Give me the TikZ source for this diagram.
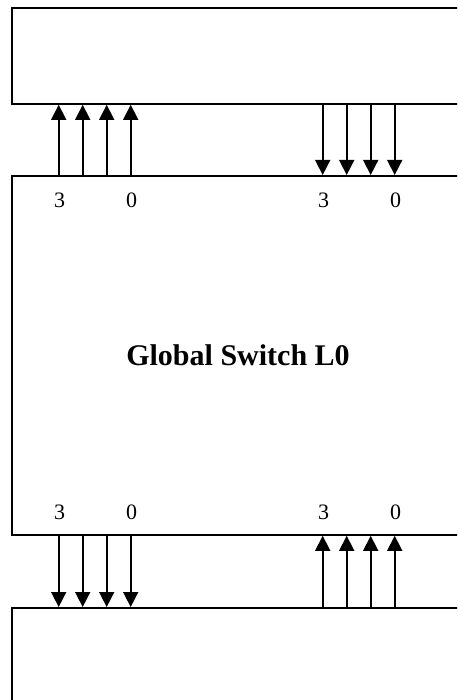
\documentclass[tikz,border=0pt]{standalone}
\usepackage{fontspec}
\setmainfont{Liberation Serif}
\usetikzlibrary{arrows.meta}

\begin{document}
\begin{tikzpicture}[x=1pt,y=-1pt,>={Triangle[length=15pt,width=15pt]}]
\tikzstyle{blk}=[rectangle,draw,line width=1.8pt,anchor=north west,inner sep=0pt,minimum width=500pt]
\tikzstyle{port}=[font=\fontsize{22}{26}\selectfont,inner sep=0pt]
\tikzstyle{lnk}=[->,line width=1.6pt]
\useasboundingbox (0,0) rectangle (457,700);
\clip (0,0) rectangle (457,700);
% blocks
\node[blk,minimum height=96pt] (top) at (10.7,7) {};
\node[blk,minimum height=359pt] (sw) at (10.7,175) {};
\node[blk,minimum height=120pt] (bot) at (10.7,607) {};
\node[font=\fontsize{30}{36}\selectfont\bfseries] (title) at (238,355) {Global Switch L0};
% link columns
\foreach \n/\x in {la/58.7,lb/82.7,lc/106.7,ld/130.7,ra/322.7,rb/346.7,rc/370.7,rd/394.7}
  \coordinate (\n) at (\x,0);
\foreach \n in {la,lb,lc,ld}{
  \draw[lnk] (\n |- sw.north) -- (\n |- top.south);
  \draw[lnk] (\n |- sw.south) -- (\n |- bot.north);
}
\foreach \n in {ra,rb,rc,rd}{
  \draw[lnk] (\n |- top.south) -- (\n |- sw.north);
  \draw[lnk] (\n |- bot.north) -- (\n |- sw.south);
}
% port numbers
\node[port] (tl3) at (59.5,200) {3}; \node[port] (tl0) at (131.5,200) {0};
\node[port] (tr3) at (323.5,200) {3}; \node[port] (tr0) at (395.5,200) {0};
\node[port] (bl3) at (59.5,512) {3}; \node[port] (bl0) at (131.5,512) {0};
\node[port] (br3) at (323.5,512) {3}; \node[port] (br0) at (395.5,512) {0};
\end{tikzpicture}
\end{document}
